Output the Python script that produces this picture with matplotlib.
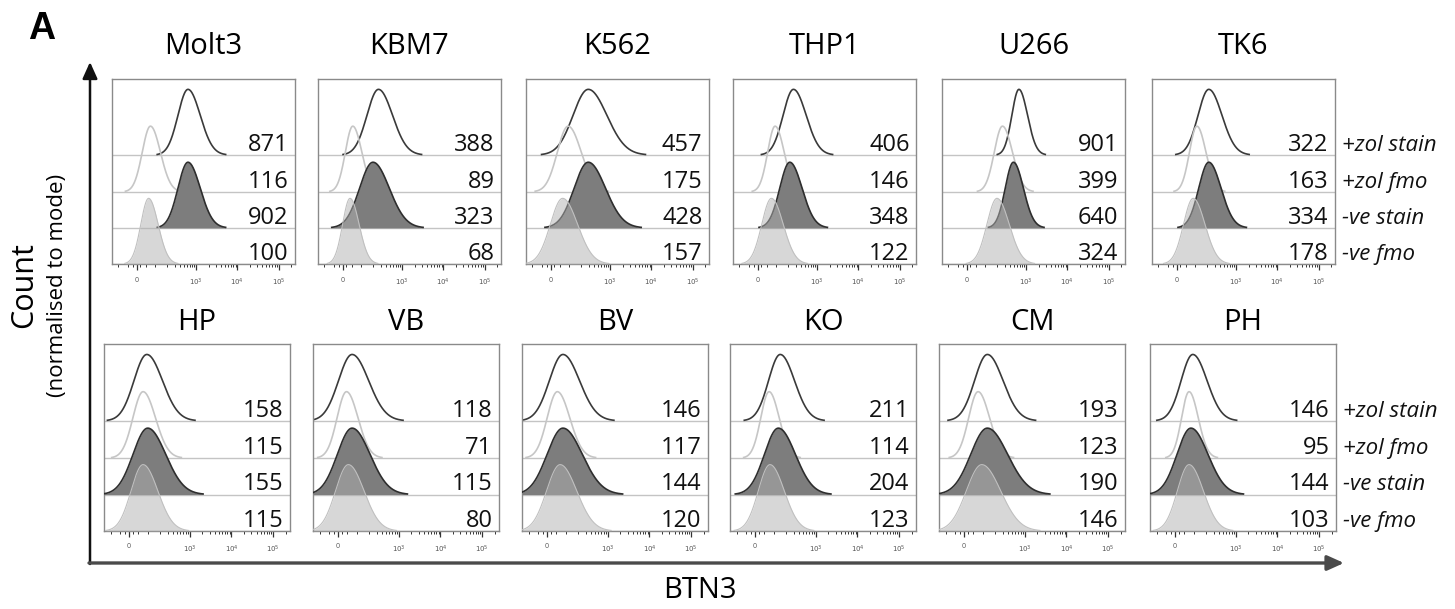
import numpy as np
import matplotlib.pyplot as plt

plt.rcParams['font.family'] = ['Open Sans', 'DejaVu Sans']

cell_lines = ['Molt3', 'KBM7', 'K562', 'THP1', 'U266', 'TK6']
donors = ['HP', 'VB', 'BV', 'KO', 'CM', 'PH']
conditions = ['+zol stain', '+zol fmo', '-ve stain', '-ve fmo']

# MFI printed in each panel, in the order of `conditions`
mfi_top = [[871, 116, 902, 100], [388, 89, 323, 68], [457, 175, 428, 157],
           [406, 146, 348, 122], [901, 399, 640, 324], [322, 163, 334, 178]]
mfi_bottom = [[158, 115, 155, 115], [118, 71, 115, 80], [146, 117, 144, 120],
              [211, 114, 204, 123], [193, 123, 190, 146], [146, 95, 144, 103]]

# BTN3 value at the histogram mode for each trace
mode_top = [[631, 75, 631, 65], [265, 55, 195, 40], [293, 95, 293, 65],
            [265, 95, 216, 75], [665, 265, 489, 195], [216, 111, 216, 90]]
mode_bottom = [[95, 75, 100, 75], [75, 45, 75, 55], [85, 55, 85, 70],
               [143, 75, 129, 80], [129, 75, 129, 95], [95, 75, 85, 75]]

# spread of each histogram (sd, in decades of the biex axis)
width_top = [[0.27, 0.22, 0.27, 0.21], [0.31, 0.20, 0.36, 0.20], [0.41, 0.29, 0.38, 0.33],
             [0.28, 0.20, 0.27, 0.26], [0.19, 0.22, 0.22, 0.27], [0.29, 0.20, 0.27, 0.26]]
width_bottom = [[0.34, 0.27, 0.39, 0.32], [0.36, 0.25, 0.39, 0.34], [0.36, 0.27, 0.42, 0.36],
                [0.31, 0.22, 0.37, 0.31], [0.34, 0.25, 0.44, 0.41], [0.31, 0.20, 0.37, 0.31]]

tick_vals = [0, 1e3, 1e4, 1e5]
tick_labels = ['0', '$10^3$', '$10^4$', '$10^5$']

W, H = 1455, 609
LINTHRESH = 100
offsets = [0.589, 0.39, 0.195, 0.0]
peak_h = 0.355

fig = plt.figure(figsize=(W / 100, H / 100), dpi=100)

# big arrows for the shared axes
ov = fig.add_axes([0, 0, 1, 1], zorder=-1)
ov.set_xlim(0, W)
ov.set_ylim(H, 0)
ov.axis('off')
ov.annotate('', xy=(90, 62), xytext=(90, 564),
            arrowprops=dict(arrowstyle='-|>,head_length=1.0,head_width=0.45',
                            lw=1.8, color='#111111', shrinkA=0, shrinkB=0))
ov.annotate('', xy=(1344, 563), xytext=(89, 563),
            arrowprops=dict(arrowstyle='-|>,head_length=1.0,head_width=0.45',
                            lw=2.4, color='#4a4a4a', shrinkA=0, shrinkB=0))

minor = [-100, -50, -20, 20, 50, 100] + [k * 10 ** e for e in (2, 3, 4) for k in range(2, 10)] + [2e5]

rows = [
    dict(names=cell_lines, mfi=mfi_top, modes=mode_top, widths=width_top,
         lefts=[112, 318, 526, 733, 942, 1152], top=79, w=183, h=185, title_y=46),
    dict(names=donors, mfi=mfi_bottom, modes=mode_bottom, widths=width_bottom,
         lefts=[104, 313, 522, 730, 939, 1150], top=344, w=186, h=187, title_y=322),
]

for row in rows:
    for i, name in enumerate(row['names']):
        left = row['lefts'][i]
        ax = fig.add_axes([left / W, 1 - (row['top'] + row['h']) / H, row['w'] / W, row['h'] / H])
        ax.set_xscale('symlog', linthresh=LINTHRESH, linscale=0.4)
        ax.set_xlim(-143, 2.5e5)
        ax.set_ylim(0, 1)
        tr = ax.xaxis.get_transform()
        t0, t1 = tr.transform(np.array([-143.0, 2.5e5]))
        tt = np.linspace(t0, t1, 600)
        xs = tr.inverted().transform(tt)

        for k in range(4):
            base = offsets[k]
            ax.axhline(base, color='#c4c4c4', lw=1.0, zorder=1)
            tm = tr.transform(np.array([float(row['modes'][i][k])]))[0]
            s = row['widths'][i][k] * LINTHRESH
            sd = np.where(tt < tm, s * 0.9, s * 1.1)
            yv = peak_h * np.exp(-0.5 * ((tt - tm) / sd) ** 2)
            m = yv > 0.003
            xm, ym = xs[m], base + yv[m]
            if k == 0:
                ax.plot(xm, ym, color='#3a3a3a', lw=1.2, zorder=2)
            elif k == 1:
                ax.plot(xm, ym, color='#c6c6c6', lw=1.2, zorder=3)
            elif k == 2:
                ax.fill_between(xm, base, ym, color='#7d7d7d', lw=0, zorder=4)
                ax.plot(xm, ym, color='#2e2e2e', lw=1.2, zorder=4.5)
            else:
                ax.fill_between(xm, base, ym, color='#b0b0b0', alpha=0.5, lw=0, zorder=5)
                ax.plot(xm, ym, color='#c0c0c0', lw=0.8, zorder=5)

            ax.text(0.965, base + 0.022, str(row['mfi'][i][k]), transform=ax.transAxes,
                    ha='right', va='baseline', fontsize=17, color='#111111', zorder=6)
            if i == len(row['names']) - 1:
                ax.text(1.04, base + 0.022, conditions[k], transform=ax.transAxes,
                        ha='left', va='baseline', fontsize=16, style='italic', color='#111111')

        ax.set_xticks(tick_vals)
        ax.set_xticklabels(tick_labels)
        ax.set_xticks(minor, minor=True)
        ax.tick_params(axis='x', which='major', length=4, width=0.9, colors='#333333',
                       labelsize=5, labelcolor='#555555', pad=5)
        ax.tick_params(axis='x', which='minor', length=2.5, width=0.7, colors='#333333')
        ax.set_yticks([])
        for sp in ax.spines.values():
            sp.set_color('#8a8a8a')
            sp.set_linewidth(1.0)

        fig.text((left + row['w'] / 2) / W, 1 - row['title_y'] / H, name,
                 ha='center', va='center', fontsize=21)

fig.text(42 / W, 1 - 29 / H, 'A', ha='center', va='center', fontsize=27,
         fontweight='bold', family='Liberation Sans')
fig.text(24 / W, 1 - 285 / H, 'Count', rotation=90, ha='center', va='center', fontsize=22)
fig.text(57 / W, 1 - 285 / H, '(normalised to mode)', rotation=90, ha='center',
         va='center', fontsize=16)
fig.text(700 / W, 1 - 591 / H, 'BTN3', ha='center', va='center', fontsize=21)

fig.savefig('out.png', dpi=100)
